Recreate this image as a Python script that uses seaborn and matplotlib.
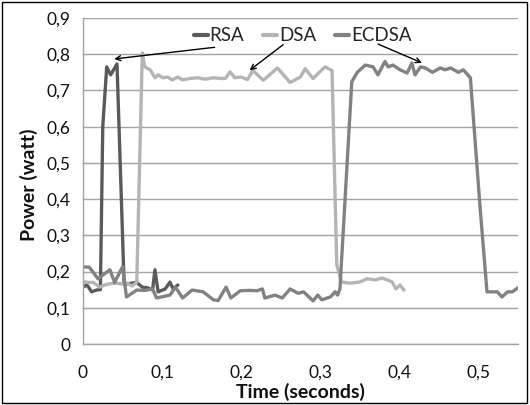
import matplotlib
matplotlib.use("Agg")
import matplotlib.pyplot as plt
import seaborn as sns
import pandas as pd
from matplotlib.patches import Rectangle
from matplotlib.lines import Line2D

# ---- data ----
rsa_t = [0, 0.005, 0.011, 0.017, 0.022, 0.025, 0.03, 0.035, 0.043, 0.052, 0.062,
         0.068, 0.075, 0.082, 0.088, 0.091, 0.095, 0.104, 0.11, 0.114, 0.12]
rsa_p = [0.157, 0.163, 0.144, 0.149, 0.15, 0.6, 0.765, 0.743, 0.773, 0.165, 0.168,
         0.17, 0.157, 0.155, 0.149, 0.205, 0.144, 0.152, 0.171, 0.152, 0.163]

dsa_t = [0, 0.006, 0.013, 0.021, 0.03, 0.04, 0.05, 0.056, 0.062, 0.068, 0.075, 0.078,
         0.085, 0.091, 0.095, 0.101, 0.107, 0.113, 0.12, 0.126, 0.135, 0.145, 0.155,
         0.165, 0.175, 0.18, 0.186, 0.192, 0.2, 0.208, 0.215, 0.228, 0.246, 0.262,
         0.275, 0.281, 0.291, 0.306, 0.315, 0.321, 0.327, 0.338, 0.35, 0.359, 0.37,
         0.378, 0.385, 0.391, 0.396, 0.401, 0.406]
dsa_p = [0.172, 0.17, 0.17, 0.157, 0.165, 0.168, 0.166, 0.168, 0.16, 0.17, 0.804, 0.765,
         0.757, 0.735, 0.743, 0.735, 0.737, 0.729, 0.737, 0.729, 0.733, 0.735, 0.731,
         0.735, 0.733, 0.733, 0.751, 0.735, 0.737, 0.73, 0.755, 0.728, 0.762, 0.722,
         0.737, 0.76, 0.733, 0.765, 0.755, 0.218, 0.171, 0.168, 0.171, 0.18, 0.177,
         0.182, 0.177, 0.171, 0.152, 0.163, 0.149]

ecdsa_t = [0, 0.008, 0.019, 0.025, 0.034, 0.04, 0.05, 0.055, 0.068, 0.078, 0.088, 0.093,
           0.11, 0.117, 0.126, 0.138, 0.152, 0.165, 0.171, 0.181, 0.187, 0.199, 0.21,
           0.22, 0.227, 0.23, 0.243, 0.252, 0.262, 0.272, 0.279, 0.291, 0.297, 0.302,
           0.313, 0.319, 0.322, 0.325, 0.34, 0.347, 0.357, 0.367, 0.373, 0.382, 0.386,
           0.392, 0.401, 0.41, 0.416, 0.42, 0.427, 0.433, 0.442, 0.452, 0.458, 0.465,
           0.475, 0.481, 0.49, 0.502, 0.511, 0.524, 0.53, 0.537, 0.543, 0.55]
ecdsa_p = [0.213, 0.212, 0.18, 0.19, 0.205, 0.17, 0.213, 0.13, 0.149, 0.148, 0.152, 0.127,
           0.135, 0.157, 0.127, 0.149, 0.144, 0.122, 0.12, 0.157, 0.127, 0.147, 0.148,
           0.147, 0.152, 0.127, 0.135, 0.127, 0.152, 0.14, 0.144, 0.119, 0.135, 0.122,
           0.13, 0.144, 0.135, 0.152, 0.724, 0.75, 0.77, 0.765, 0.743, 0.78, 0.765,
           0.77, 0.757, 0.748, 0.776, 0.743, 0.765, 0.762, 0.75, 0.762, 0.757, 0.762,
           0.75, 0.757, 0.735, 0.385, 0.144, 0.144, 0.13, 0.144, 0.144, 0.155]

series_names = ["RSA", "DSA", "ECDSA"]
series_colors = ["#5a5a5a", "#b4b4b4", "#828282"]

ytick_vals = [0, 0.1, 0.2, 0.3, 0.4, 0.5, 0.6, 0.7, 0.8, 0.9]
ytick_labels = ["0", "0,1", "0,2", "0,3", "0,4", "0,5", "0,6", "0,7", "0,8", "0,9"]
xtick_vals = [0, 0.1, 0.2, 0.3, 0.4, 0.5]
xtick_labels = ["0", "0,1", "0,2", "0,3", "0,4", "0,5"]

x_label = "Time (seconds)"
y_label = "Power (watt)"

# ---- build long table ----
df = pd.concat([
    pd.DataFrame({"t": rsa_t, "p": rsa_p, "alg": "RSA"}),
    pd.DataFrame({"t": dsa_t, "p": dsa_p, "alg": "DSA"}),
    pd.DataFrame({"t": ecdsa_t, "p": ecdsa_p, "alg": "ECDSA"}),
], ignore_index=True)

sns.set_theme(style="white")
plt.rcParams["font.family"] = ["Lato", "DejaVu Sans"]

fig = plt.figure(figsize=(5.3, 4.05), dpi=100)
ax = fig.add_axes([0.1566, 0.1506, 0.8204, 0.805])

sns.lineplot(data=df, x="t", y="p", hue="alg", hue_order=series_names,
             palette=series_colors, estimator=None, sort=False, linewidth=2.4,
             ax=ax, legend=False)

ax.set_xlim(0, 0.55)
ax.set_ylim(0, 0.9)
ax.set_yticks(ytick_vals)
ax.set_yticklabels(ytick_labels)
ax.set_xticks(xtick_vals)
ax.set_xticklabels(xtick_labels)
ax.tick_params(axis="both", length=0, labelsize=12.5, labelcolor="#111111")
ax.tick_params(axis="y", pad=9)
ax.tick_params(axis="x", pad=15)

ax.yaxis.grid(True, color="#a3a3a3", linewidth=1.0)
ax.xaxis.grid(False)
ax.set_axisbelow(True)
for s in ["top", "right"]:
    ax.spines[s].set_visible(False)
ax.spines["left"].set_color("#a3a3a3")
ax.spines["bottom"].set_color("#a3a3a3")
ax.spines["left"].set_linewidth(1.0)
ax.spines["bottom"].set_linewidth(1.0)

ax.set_xlabel(x_label, fontsize=14, fontweight="bold", color="#111111")
ax.set_ylabel(y_label, fontsize=14, fontweight="bold", color="#111111")
ax.xaxis.set_label_coords(0.499, -0.12)
ax.yaxis.set_label_coords(-0.104, 0.488)

handles = [Line2D([0], [0], color=c, lw=3) for c in series_colors]
ax.legend(handles, series_names, loc="center", bbox_to_anchor=(0.505, 0.945),
          ncol=3, frameon=False, handlelength=0.75, handletextpad=0.1,
          columnspacing=1.0, fontsize=13.5, borderaxespad=0)

arrow = dict(arrowstyle="->", color="black", lw=1.0, mutation_scale=9)
ax.annotate("", xy=(0.036, 0.786), xytext=(0.17, 0.82), arrowprops=arrow)
ax.annotate("", xy=(0.208, 0.751), xytext=(0.256, 0.831), arrowprops=arrow)
ax.annotate("", xy=(0.432, 0.773), xytext=(0.37, 0.831), arrowprops=arrow)

fig.patches.append(Rectangle((0.004, 0.005), 0.991, 0.99, transform=fig.transFigure,
                             fill=False, edgecolor="#000000", linewidth=1.0))

fig.savefig("out.png", dpi=100)
